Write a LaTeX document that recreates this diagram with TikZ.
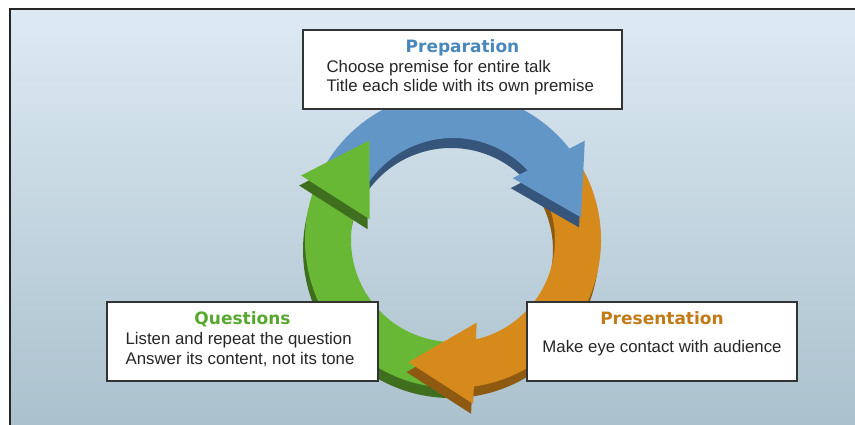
\documentclass[tikz,border=0pt]{standalone}
\usepackage{fontspec}
\setmainfont{Liberation Sans}
\newfontfamily\headfont{DejaVu Sans}
\usepackage{tikz}
\usetikzlibrary{calc,positioning}

\definecolor{bgtop}{HTML}{DDEAF3}
\definecolor{bgbot}{HTML}{A8BFCB}
\definecolor{prepface}{HTML}{6296C6}
\definecolor{prepside}{HTML}{35557A}
\definecolor{presface}{HTML}{D68A1C}
\definecolor{presside}{HTML}{8E5A12}
\definecolor{quesface}{HTML}{68B836}
\definecolor{quesside}{HTML}{3F6E1F}
\definecolor{prepcol}{HTML}{4A88BC}
\definecolor{prescol}{HTML}{C27A16}
\definecolor{quescol}{HTML}{58A830}

\begin{document}
\begin{tikzpicture}[x=1pt, y=1pt,
                card/.style={draw=black!80, line width=1.2pt, fill=white, minimum height=79pt, inner sep=0pt},
                cardtitle/.style={font=\headfont\bfseries\fontsize{17}{20}\selectfont, inner sep=0pt, anchor=base},
                cardline/.style={font=\fontsize{16.8}{20}\selectfont, text=black!85, inner sep=0pt, anchor=base west}]
                \useasboundingbox (0,0) rectangle (855,425);
                \clip (0,0) rectangle (855,425);
                \fill[white] (0,0) rectangle (855,425);
                \draw[line width=2.5pt, draw=black!85, top color=bgtop, bottom color=bgbot] (10,-20) rectangle (900,416);
                \foreach \s/\face/\side in {140/prepface/prepside, 20/presface/presside, -100/quesface/quesside} {
                    \pgfmathsetmacro{\a}{\s + 15}
                    \pgfmathsetmacro{\eo}{\s - 106}
                    \pgfmathsetmacro{\ei}{\s - 97}
                    \begin{scope}[shift={(451,175)}]
                        \fill[\side] (\a:148) arc[start angle=\a, end angle=\eo, radius=148] -- (\ei:102) arc[start angle=\ei, end angle=\a, radius=102] -- cycle;
                    \end{scope}
                }
                \foreach \s/\face/\side in {140/prepface/prepside, 20/presface/presside, -100/quesface/quesside} {
                    \pgfmathsetmacro{\a}{\s + 15}
                    \pgfmathsetmacro{\eo}{\s - 106}
                    \pgfmathsetmacro{\ei}{\s - 97}
                    \begin{scope}[shift={(453,185)}]
                        \fill[\face] (\a:148) arc[start angle=\a, end angle=\eo, radius=148] -- (\ei:102) arc[start angle=\ei, end angle=\a, radius=102] -- cycle;
                    \end{scope}
                }
                \foreach \s/\face/\side in {140/prepface/prepside, 20/presface/presside, -100/quesface/quesside} {
                    \pgfmathsetmacro{\bo}{\s - 103}
                    \pgfmathsetmacro{\bi}{\s - 94}
                    \pgfmathsetmacro{\t}{\s - 130}
                    \begin{scope}[shift={(451,175)}]
                        \fill[\side] (\bo:165) -- (\t:130) -- (\bi:86) -- cycle;
                    \end{scope}
                    \begin{scope}[shift={(453,185)}]
                        \fill[\face] (\bo:165) -- (\t:130) -- (\bi:86) -- cycle;
                    \end{scope}
                }
                \node[card, minimum width=319pt] (prepbox) at (462.5,355.5) {};
                \node[cardtitle, text=prepcol] (preptitle) at ([yshift=-23pt]prepbox.north) {Preparation};
                \foreach \line [count=\i] in {Choose premise for entire talk, Title each slide with its own premise} {
                    \node[cardline] (prepline\i) at ([xshift=24pt, yshift=-23.5pt-19.5pt*\i]prepbox.north west) {\line};
                }
                \node[card, minimum width=271pt] (quesbox) at (242.5,83.5) {};
                \node[cardtitle, text=quescol] (questitle) at ([yshift=-23pt]quesbox.north) {Questions};
                \foreach \line [count=\i] in {Listen and repeat the question, {Answer its content, not its tone}} {
                    \node[cardline] (quesline\i) at ([xshift=19pt, yshift=-23pt-20pt*\i]quesbox.north west) {\line};
                }
                \node[card, minimum width=270pt] (presbox) at (662,83.5) {};
                \node[cardtitle, text=prescol] (prestitle) at ([yshift=-23pt]presbox.north) {Presentation};
                \node[cardline, anchor=base] (presline1) at ([yshift=-51pt]presbox.north) {Make eye contact with audience};
            \end{tikzpicture}
\end{document}
